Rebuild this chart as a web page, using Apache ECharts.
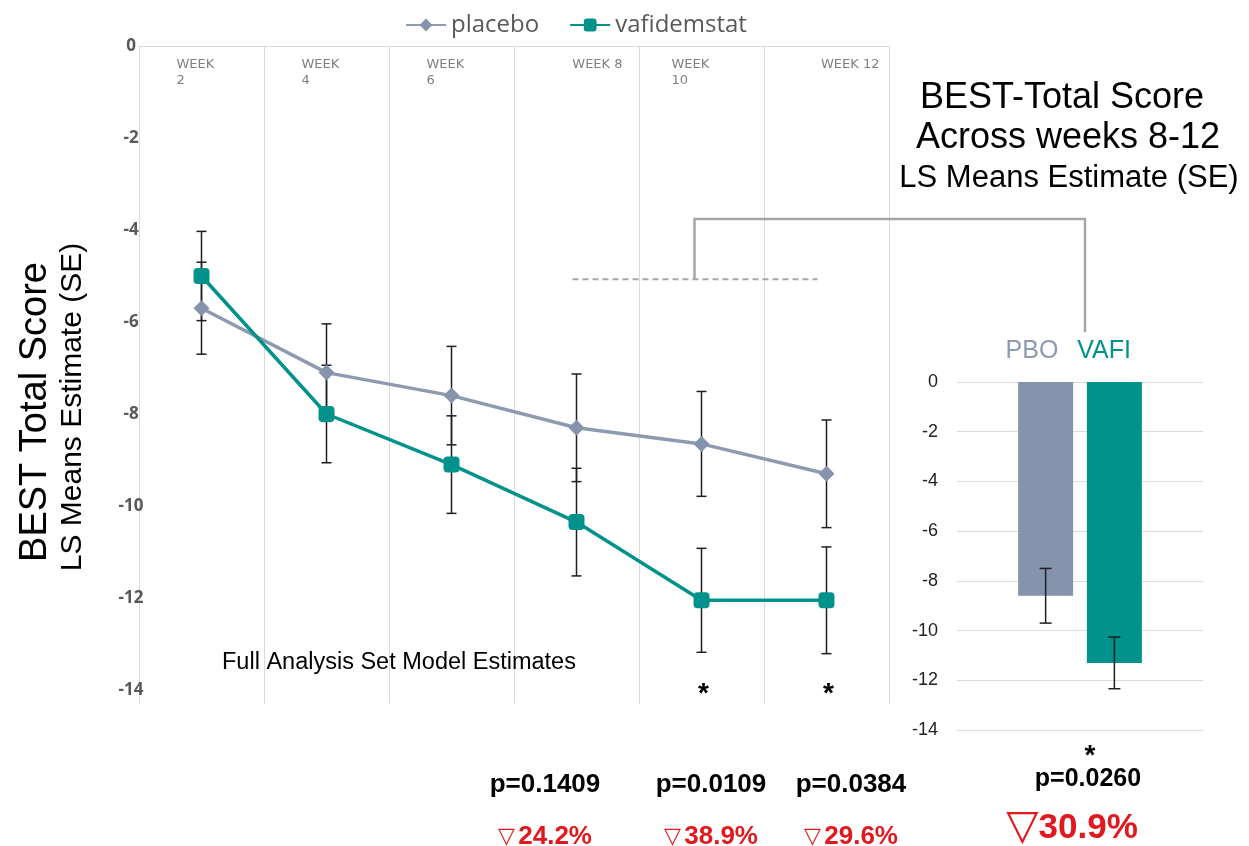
<!DOCTYPE html>
<html>
<head>
<meta charset="utf-8">
<script src="https://cdn.jsdelivr.net/npm/echarts@6/dist/echarts.min.js"></script>
<style>
html,body{margin:0;padding:0;background:#fff;}
#main{width:1249px;height:846px;}
</style>
</head>
<body>
<div id="main"></div>
<script>
// ---------- data ----------
const weeks = ['WEEK\n2', 'WEEK\n4', 'WEEK\n6', 'WEEK 8', 'WEEK\n10', 'WEEK 12'];
const placebo = [-5.7, -7.1, -7.6, -8.3, -8.65, -9.3];
const placeboSE = [1.0, 1.06, 1.07, 1.17, 1.14, 1.17];
const vafidemstat = [-5.0, -8.0, -9.1, -10.35, -12.05, -12.05];
const vafidemstatSE = [0.97, 1.06, 1.06, 1.17, 1.13, 1.16];
const barGroups = ['PBO', 'VAFI'];
const barMeans = [-8.6, -11.3];
const barSE = [1.1, 1.04];
const weekPValues = ['p=0.1409', 'p=0.0109', 'p=0.0384'];
const weekReductions = ['24.2%', '38.9%', '29.6%'];
const overallP = 'p=0.0260';
const overallReduction = '30.9%';
const significantWeeks = [4, 5];

// ---------- style ----------
const C_PBO = '#8593ad';
const C_PBO_LINE = '#8e9ab0';
const C_VAFI = '#00928b';
const C_RED = '#e0191e';
const labelKeys = ['l50', 'l50', 'l50', 'r92', 'l60', 'r106'];
const barW = 55, barGapRatio = 0.25;

const chart = echarts.init(document.getElementById('main'));

function errRender(params, api) {
  const x = api.value(0), lo = api.value(1), hi = api.value(2);
  const a = api.coord([x, lo]), b = api.coord([x, hi]);
  const cap = 5;
  const st = { stroke: '#1f1f1f', lineWidth: 1.5 };
  return { type: 'group', children: [
    { type: 'line', shape: { x1: a[0], y1: a[1], x2: b[0], y2: b[1] }, style: st },
    { type: 'line', shape: { x1: a[0] - cap, y1: a[1], x2: a[0] + cap, y2: a[1] }, style: st },
    { type: 'line', shape: { x1: b[0] - cap, y1: b[1], x2: b[0] + cap, y2: b[1] }, style: st }
  ]};
}
function barErrRender(params, api) {
  const side = params.dataIndex === 0 ? -1 : 1;
  const dx = side * (barW + barW * barGapRatio) / 2;
  const lo = api.value(1), hi = api.value(2);
  const a = api.coord([0, lo]), b = api.coord([0, hi]);
  const x = a[0] + dx, cap = 6;
  const st = { stroke: '#1f1f1f', lineWidth: 1.5 };
  return { type: 'group', children: [
    { type: 'line', shape: { x1: x, y1: a[1], x2: x, y2: b[1] }, style: st },
    { type: 'line', shape: { x1: x - cap, y1: a[1], x2: x + cap, y2: a[1] }, style: st },
    { type: 'line', shape: { x1: x - cap, y1: b[1], x2: x + cap, y2: b[1] }, style: st }
  ]};
}

const rich = {};
[['l50', 50, 'left'], ['l60', 60, 'left'], ['r92', 92, 'right'], ['r106', 106, 'right']].forEach(function (d) {
  rich[d[0]] = { width: d[1], align: d[2], fontSize: 13, fontFamily: 'DejaVu Sans', color: '#808080', lineHeight: 16 };
});

function txt(text, x, y, font, fill, align, extra) {
  const o = { type: 'text', x: x, y: y, z: 100,
    style: { text: text, font: font, fill: fill, textAlign: align || 'center', textVerticalAlign: 'middle', align: align || 'center', verticalAlign: 'middle' } };
  if (extra) Object.assign(o, extra);
  return o;
}
function redPct(pct, x, y, triSize, pctSize, sep) {
  return { type: 'text', x: x, y: y, z: 100,
    style: { text: '{t|▽}' + sep + '{p|' + pct + '}', textAlign: 'center', textVerticalAlign: 'middle', align: 'center', verticalAlign: 'middle',
      rich: { t: { fontSize: triSize, fontFamily: 'DejaVu Sans', fill: C_RED, color: C_RED },
              p: { fontSize: pctSize, fontWeight: 'bold', fontFamily: '"Liberation Sans", Arial', fill: C_RED, color: C_RED } } } };
}

const graphics = [
  txt('BEST Total Score', 36, 412, '38px "Liberation Sans", Arial', '#000', 'center', { rotation: Math.PI / 2 }),
  txt('LS Means Estimate (SE)', 73, 407, '30px "Liberation Sans", Arial', '#000', 'center', { rotation: Math.PI / 2 }),
  txt('BEST-Total Score', 1062, 98, '36px "Liberation Sans", Arial', '#000'),
  txt('Across weeks 8-12', 1068, 138, '36px "Liberation Sans", Arial', '#000'),
  txt('LS Means Estimate (SE)', 1069, 178, '31px "Liberation Sans", Arial', '#000'),
  txt('Full Analysis Set Model Estimates', 222, 663, '23.5px "Liberation Sans", Arial', '#000', 'left'),
  txt(barGroups[0], 1032, 351, '25px "Liberation Sans", Arial', C_PBO_LINE),
  txt(barGroups[1], 1104, 351, '25px "Liberation Sans", Arial', C_VAFI),
  txt('*', 1090, 756, 'bold 28px "Liberation Sans", Arial', '#000'),
  txt(overallP, 1088, 779, 'bold 25px "Liberation Sans", Arial', '#000'),
  redPct(overallReduction, 1072, 828, 42, 35, '')
];
const pX = [545, 711, 851];
weekPValues.forEach(function (p, i) {
  graphics.push(txt(p, pX[i], 785, 'bold 26px "Liberation Sans", Arial', '#000'));
  graphics.push(redPct(weekReductions[i], pX[i], 837, 22, 26, ' '));
});

const option = {
  backgroundColor: '#fff',
  animation: false,
  legend: {
    data: ['placebo', 'vafidemstat'],
    left: 400, top: 8, itemWidth: 40, itemHeight: 16, itemGap: 30,
    textStyle: { fontSize: 24, color: '#595959', fontFamily: '"Open Sans"' }
  },
  grid: [
    { left: 139, right: 360, top: 46, bottom: 156 },
    { left: 957, right: 46, top: 382, bottom: 116 }
  ],
  xAxis: [
    { type: 'category', gridIndex: 0, data: weeks, position: 'top', boundaryGap: true,
      axisLine: { lineStyle: { color: '#d9d9d9', width: 1 } }, axisTick: { show: false },
      splitLine: { show: true, interval: 0, lineStyle: { color: '#dadada', width: 1 } },
      axisLabel: { inside: true, interval: 0, margin: 11, verticalAlign: 'top',
        formatter: function (v, i) { return v.split('\n').map(function (s) { return '{' + labelKeys[i] + '|' + s + '}'; }).join('\n'); },
        rich: rich } },
    { type: 'category', gridIndex: 1, data: ['LS'], show: false }
  ],
  yAxis: [
    { type: 'value', gridIndex: 0, min: -14, max: 0, interval: 2,
      axisLine: { show: false }, axisTick: { show: false }, splitLine: { show: false },
      axisLabel: { margin: 8, align: 'center', fontSize: 17, fontWeight: 'bold', color: '#595959', fontFamily: '"Open Sans"' } },
    { type: 'value', gridIndex: 1, min: -14, max: 0, interval: 2,
      axisLine: { show: false }, axisTick: { show: false },
      splitLine: { show: true, lineStyle: { color: '#dcdcdc', width: 1 } },
      axisLabel: { margin: 19, fontSize: 18, color: '#222', fontFamily: '"Liberation Sans", Arial' } }
  ],
  series: [
    { name: 'placebo-se', type: 'custom', xAxisIndex: 0, yAxisIndex: 0, z: 1, renderItem: errRender,
      encode: { x: 0, y: [1, 2] },
      data: weeks.map(function (w, i) { return [i, placebo[i] - placeboSE[i], placebo[i] + placeboSE[i]]; }) },
    { name: 'vafidemstat-se', type: 'custom', xAxisIndex: 0, yAxisIndex: 0, z: 1, renderItem: errRender,
      encode: { x: 0, y: [1, 2] },
      data: weeks.map(function (w, i) { return [i, vafidemstat[i] - vafidemstatSE[i], vafidemstat[i] + vafidemstatSE[i]]; }) },
    { name: 'placebo', type: 'line', xAxisIndex: 0, yAxisIndex: 0, z: 3, data: placebo,
      symbol: 'diamond', symbolSize: 16, color: C_PBO,
      itemStyle: { color: C_PBO }, lineStyle: { color: C_PBO_LINE, width: 3.5 } },
    { name: 'vafidemstat', type: 'line', xAxisIndex: 0, yAxisIndex: 0, z: 4, data: vafidemstat,
      symbol: 'roundRect', symbolSize: 16, color: C_VAFI,
      itemStyle: { color: C_VAFI }, lineStyle: { color: C_VAFI, width: 3.5 } },
    { name: barGroups[0], type: 'bar', xAxisIndex: 1, yAxisIndex: 1, data: [barMeans[0]],
      barWidth: barW, barGap: (barGapRatio * 100) + '%', itemStyle: { color: C_PBO } },
    { name: barGroups[1], type: 'bar', xAxisIndex: 1, yAxisIndex: 1, data: [barMeans[1]],
      barWidth: barW, barGap: (barGapRatio * 100) + '%', itemStyle: { color: C_VAFI } },
    { name: 'bar-se', type: 'custom', xAxisIndex: 1, yAxisIndex: 1, z: 5, renderItem: barErrRender,
      encode: { x: 0, y: [1, 2] },
      data: barMeans.map(function (m, i) { return [0, m - barSE[i], m + barSE[i]]; }) }
  ],
  graphic: graphics
};
chart.setOption(option);

// connectors & significance marks derived from the axes
const g0 = { xAxisIndex: 0, yAxisIndex: 0 };
const g1 = { xAxisIndex: 1, yAxisIndex: 1 };
const dashL = chart.convertToPixel(g0, [3, -5.07]);
const dashR = chart.convertToPixel(g0, [5, -5.07]);
const brTopL = chart.convertToPixel(g0, [4, -3.76]);
const brRight = chart.convertToPixel(g1, [0, 2.0]);
const bottomL = chart.convertToPixel(g0, [0, -14.3]);
const extra = [
  { type: 'line', z: 50, shape: { x1: dashL[0] - 4, y1: dashL[1], x2: dashR[0] - 9, y2: dashR[1] },
    style: { stroke: '#a6a6a6', lineWidth: 2, lineDash: [6, 4] } },
  { type: 'polyline', z: 50, shape: { points: [[brTopL[0] - 7, dashL[1]], [brTopL[0] - 7, brTopL[1]], [brRight[0] + 5, brTopL[1]], [brRight[0] + 5, brRight[1]]] },
    style: { stroke: '#a6a6a6', lineWidth: 2.5, fill: null } }
];
// extend the category separators slightly below the plot, as in the source
for (let i = 0; i <= weeks.length; i++) {
  const a = chart.convertToPixel(g0, [Math.min(i, weeks.length - 1), -14]);
  const half = (chart.convertToPixel(g0, [1, 0])[0] - chart.convertToPixel(g0, [0, 0])[0]) / 2;
  const x = i < weeks.length ? a[0] - half : a[0] + half;
  extra.push({ type: 'line', z: 0, shape: { x1: Math.round(x) + 0.5, y1: a[1], x2: Math.round(x) + 0.5, y2: bottomL[1] },
    style: { stroke: '#dadada', lineWidth: 1 } });
}
significantWeeks.forEach(function (i) {
  const p = chart.convertToPixel(g0, [i, -13.95]);
  extra.push(txt('*', p[0] + 2, p[1] + 7, 'bold 28px "Liberation Sans", Arial', '#000'));
});
chart.setOption({ graphic: graphics.concat(extra) });
</script>
</body>
</html>
